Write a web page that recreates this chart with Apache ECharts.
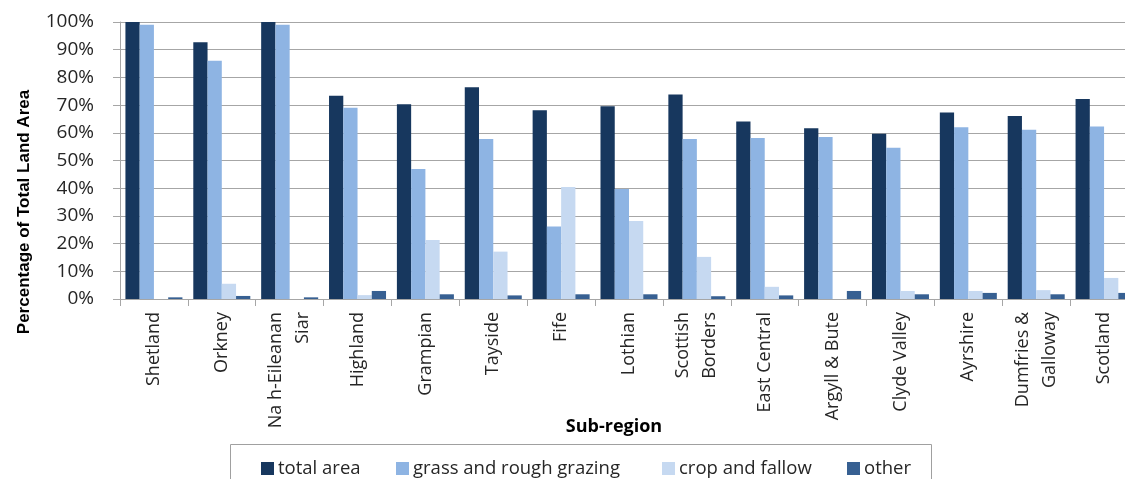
<!DOCTYPE html>
<html>
<head>
<meta charset="utf-8">
<script src="https://cdn.jsdelivr.net/npm/echarts@6/dist/echarts.min.js"></script>
<style>
  html, body { margin: 0; padding: 0; overflow: hidden; background: #fff; }
  #chart { width: 1138px; height: 479px; }
</style>
</head>
<body>
<div id="chart"></div>
<script>
// Land use share by sub-region (percentage of total land area)
const categories = ['Shetland', 'Orkney', 'Na h-Eileanan\nSiar', 'Highland', 'Grampian', 'Tayside', 'Fife',
  'Lothian', 'Scottish\nBorders', 'East Central', 'Argyll & Bute', 'Clyde Valley', 'Ayrshire',
  'Dumfries &\nGalloway', 'Scotland'];
const seriesNames = ['total area', 'grass and rough grazing', 'crop and fallow', 'other'];
const totalArea = [100, 92.7, 100, 73.4, 70.3, 76.4, 68.1, 69.6, 73.8, 64.1, 61.6, 59.7, 67.3, 66.1, 72.2];
const grassRough = [99.0, 86.0, 99.0, 69.0, 46.9, 57.8, 26.2, 39.7, 57.8, 58.1, 58.5, 54.6, 62.0, 61.1, 62.3];
const cropFallow = [0, 5.5, 0, 1.4, 21.3, 17.1, 40.4, 28.2, 15.2, 4.4, 0, 2.9, 2.9, 3.2, 7.6];
const otherUse = [0.6, 1.1, 0.6, 2.9, 1.7, 1.3, 1.7, 1.7, 1.0, 1.3, 2.9, 1.7, 2.2, 1.7, 2.2];
const yTicks = { min: 0, max: 100, interval: 10 };

const colors = ['#17375E', '#8EB4E3', '#C6D9F1', '#376092'];
const seriesData = [totalArea, grassRough, cropFallow, otherUse];
const textFont = '"Open Sans", sans-serif';
const gridColor = '#A6A6A6';

const chart = echarts.init(document.getElementById('chart'), null, { renderer: 'canvas' });

const legendLefts = [261, 396, 662, 847];

chart.setOption({
  animation: false,
  color: colors,
  grid: { left: 120, right: 0, top: 22, bottom: 180, containLabel: false },
  legend: seriesNames.map((n, i) => ({
    data: [n],
    left: legendLefts[i],
    top: 459,
    padding: 0,
    itemWidth: 13,
    itemHeight: 13,
    itemGap: 0,
    icon: 'rect',
    selectedMode: false,
    textStyle: { fontFamily: textFont, fontSize: 18.5, color: '#262626', padding: [0, 0, 0, -1] }
  })),
  graphic: [
    {
      type: 'rect',
      shape: { x: 230.5, y: 444.5, width: 701, height: 60 },
      style: { fill: 'none', stroke: '#A0A0A0', lineWidth: 1 },
      z: 0
    },
    {
      type: 'text',
      x: 24, y: 212,
      rotation: Math.PI / 2,
      style: {
        text: 'Percentage of Total Land Area',
        font: 'bold 17px "Liberation Sans", Arial, sans-serif',
        fill: '#000',
        align: 'center',
        verticalAlign: 'middle'
      }
    },
    {
      type: 'text',
      x: 614, y: 427,
      style: {
        text: 'Sub-region',
        font: 'bold 18px "Open Sans", sans-serif',
        fill: '#000',
        align: 'center',
        verticalAlign: 'middle'
      }
    }
  ],
  xAxis: {
    type: 'category',
    data: categories,
    axisLine: { show: true, lineStyle: { color: gridColor, width: 1 } },
    axisTick: { show: true, length: 7, lineStyle: { color: gridColor } },
    axisLabel: {
      rotate: 90,
      interval: 0,
      margin: 13,
      fontFamily: textFont,
      fontSize: 18,
      lineHeight: 27,
      color: '#262626'
    }
  },
  yAxis: {
    type: 'value',
    min: yTicks.min,
    max: yTicks.max,
    interval: yTicks.interval,
    axisLine: { show: true, lineStyle: { color: gridColor, width: 1 } },
    axisTick: { show: true, length: 7, lineStyle: { color: gridColor } },
    splitLine: { show: true, lineStyle: { color: gridColor, width: 1 } },
    axisLabel: {
      formatter: '{value}%',
      margin: 26,
      fontFamily: textFont,
      fontSize: 19,
      color: '#262626'
    }
  },
  series: seriesNames.map((n, i) => ({
    name: n,
    type: 'bar',
    data: seriesData[i],
    barGap: '0%',
    barCategoryGap: '16%',
    itemStyle: { color: colors[i] }
  }))
});
</script>
</body>
</html>
